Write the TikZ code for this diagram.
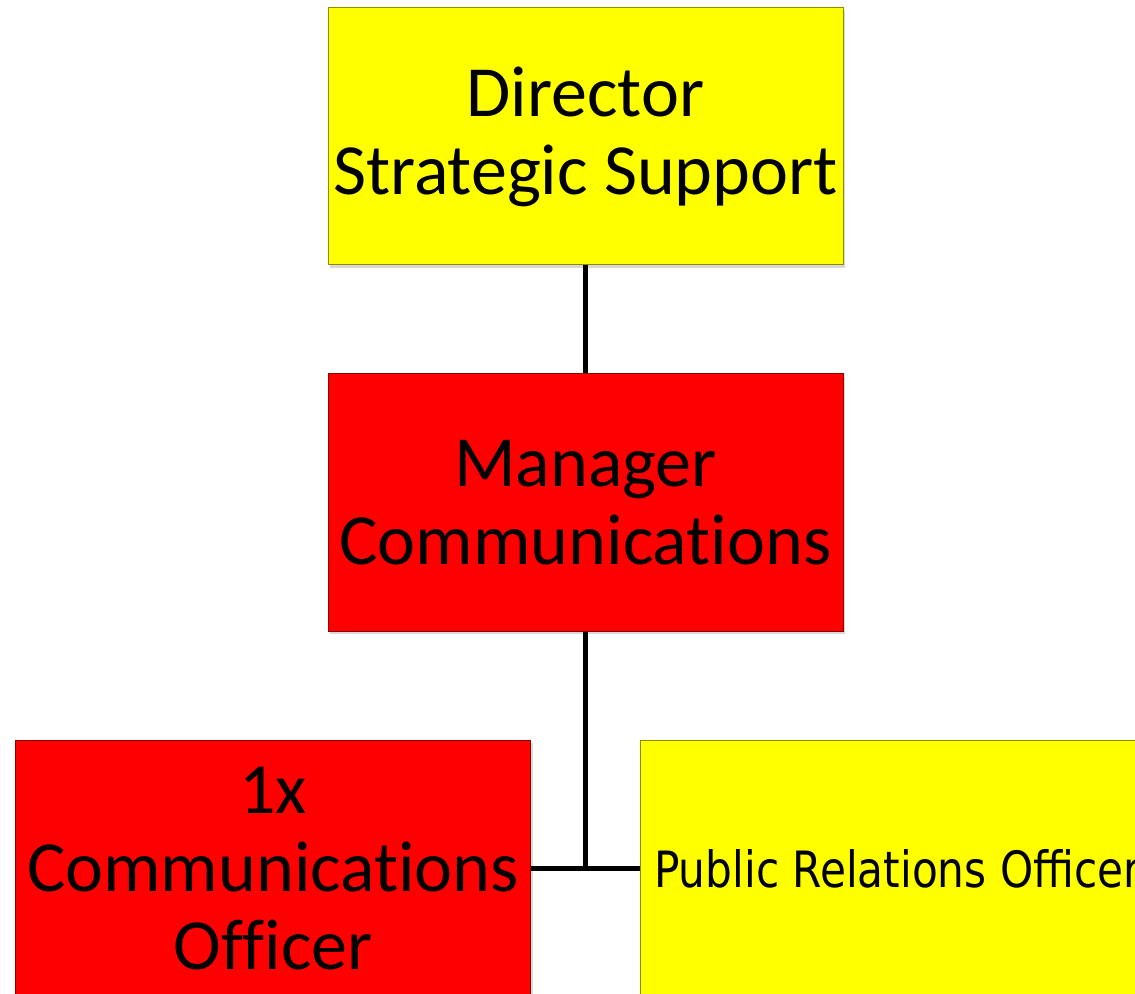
\documentclass[tikz,border=0pt]{standalone}
\usepackage{fontspec}
\setmainfont{Carlito}[Ligatures=NoCommon]
\newfontfamily\prfont[FakeStretch=0.845]{DejaVu Sans}
\usetikzlibrary{positioning,shadows}

\definecolor{postyellow}{RGB}{255,255,0}
\definecolor{postred}{RGB}{255,0,0}

\tikzset{
  post/.style={
    rectangle,
    minimum width=257.5pt,
    minimum height=128.5pt,
    inner sep=0pt,
    align=center,
    line width=0.5pt,
    drop shadow={shadow xshift=1.2pt,shadow yshift=-1.5pt,opacity=0.3},
    font=\fontsize{36}{39}\selectfont
  },
  yellowpost/.style={post,fill=postyellow,draw=postyellow!55!black},
  redpost/.style={post,fill=postred,draw=postred!55!black},
  link/.style={line width=2.5pt}
}

\begin{document}
\begin{tikzpicture}[x=0.5pt,y=-0.5pt,node distance=54pt]
  \useasboundingbox (0,0) rectangle (1135,994);
  \clip (0,0) rectangle (1135,994);
  \fill[white] (0,0) rectangle (1135,994);

  \node[yellowpost] (director) at (585.5,136.5) {Director\\Strategic Support};
  \node[redpost,below=54pt of director] (manager) {Manager\\Communications};
  \node[redpost,below=54pt of manager,xshift=-156.25pt] (commofficer)
    {1x\\Communications\\Officer};
  \node[yellowpost,below=54pt of manager,xshift=156pt,
    font=\prfont\fontsize{25}{30}\selectfont] (profficer)
    {Public Relations Officer};

  % reporting lines
  \draw[link] (director) -- (manager);
  \draw[link] (manager) -- (manager |- commofficer.east);
  \draw[link] (commofficer) -- (profficer);
\end{tikzpicture}
\end{document}
